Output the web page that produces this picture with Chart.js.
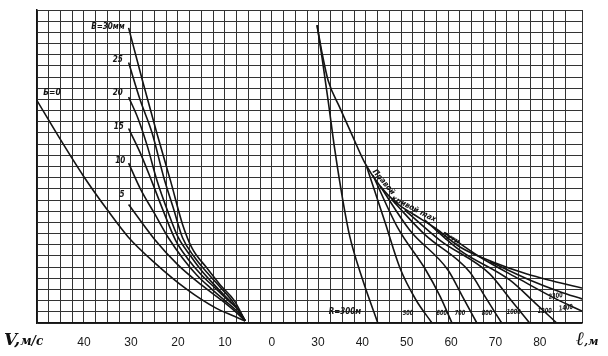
<!DOCTYPE html>
<html><head><meta charset="utf-8">
<script src="https://cdn.jsdelivr.net/npm/chart.js@4/dist/chart.umd.min.js"></script>
<style>
html,body{margin:0;padding:0;background:#fff;}
#wrap{position:relative;width:608px;height:356px;overflow:hidden;}
canvas{display:block;}
.ax{position:absolute;font-family:"DejaVu Serif",serif;font-style:italic;font-weight:bold;color:#111;white-space:nowrap;}
</style></head><body>
<div id="wrap"><canvas id="c" width="608" height="356"></canvas>
<span class="ax" style="left:4px;top:329px;font-size:17px;">V,<span style="font-size:12px">м/с</span></span>
<span class="ax" style="left:576px;top:327px;font-size:19px;">ℓ<span style="font-size:11px">,м</span></span>
</div>
<script>
// ---- tick labels ----
const LEFT_TICKS = [40, 30, 20, 10, 0];
const RIGHT_TICKS = [30, 40, 50, 60, 70, 80];

// ---- left family (V, m/s) : curves for B = 0 ... 30 mm ----
const b0V  = [50, 45, 40.2, 35, 30.6, 25, 18.1, 12, 8, 5.7];
const b0Y  = [19.9, 16.4, 13.2, 10.1, 7.7, 5.4, 3.0, 1.35, 0.6, 0.18];
const b5V  = [30.5, 25, 20, 15, 10, 8, 5.7];
const b5Y  = [10.6, 7.5, 5.2, 3.4, 1.8, 1.1, 0.2];
const b10V = [30.5, 28, 25, 22, 19, 16, 13, 10, 7.5, 5.7];
const b10Y = [14.3, 12.0, 9.8, 7.6, 5.8, 4.3, 3.1, 2.0, 1.1, 0.2];
const b15V = [30.5, 28, 25.5, 23, 20.5, 18, 15, 12, 9, 7, 5.7];
const b15Y = [17.4, 15.2, 12.6, 9.9, 7.4, 5.8, 4.3, 3.1, 1.9, 1.1, 0.2];
const b20V = [30.5, 28.5, 26.5, 24.5, 22, 20, 17.5, 15, 12, 9, 7, 5.7];
const b20Y = [20.2, 18.3, 15.8, 12.8, 9.8, 7.7, 6.1, 4.7, 3.3, 2.0, 1.1, 0.2];
const b25V = [30.5, 28, 25.5, 23, 21, 19, 16.5, 14, 11, 8.5, 5.7];
const b25Y = [23.3, 19.9, 17.0, 13.0, 10.3, 7.6, 5.9, 4.6, 3.2, 2.0, 0.2];
const b30V = [30.5, 27.5, 24.5, 21.5, 19, 17, 14, 11, 8, 5.7];
const b30Y = [26.4, 21.6, 17.0, 12.6, 8.8, 6.7, 5.0, 3.4, 2.0, 0.2];

// ---- right family (ℓ, m) : envelope and radius curves ----
const envL  = [29.8, 30.9, 32.3, 35.0, 37.7, 40.6, 44.0, 47.8, 51.8, 56.4, 62.0, 69.4, 77.1, 82.9, 89.5];
const envY  = [26.65, 24.2, 21.7, 19.2, 16.8, 14.3, 12.25, 10.7, 9.66, 8.5, 6.8, 5.46, 4.38, 3.76, 3.13];
const r300L = [29.8, 30.9, 32.3, 33.8, 35.6, 37.2, 40.1, 43.5];
const r300Y = [26.65, 23.8, 19.9, 15.5, 11.0, 7.7, 3.85, 0];
const r500L = [41.0, 45.1, 48.5, 52.1, 55.7];
const r500Y = [13.95, 9.03, 4.9, 2.06, 0];
const r600L = [42.4, 48.0, 54.3, 57.5, 60.2];
const r600Y = [13.2, 8.5, 4.74, 2.4, 0];
const r700L = [44.0, 50.7, 59.3, 62.4, 65.8];
const r700Y = [12.25, 8.3, 4.74, 2.5, 0];
const r800L = [46.7, 54.1, 64.2, 67.6, 71.4];
const r800Y = [11.0, 7.9, 4.56, 2.4, 0];
const r1000L = [49.6, 57.5, 68.7, 73.2, 77.7];
const r1000Y = [10.1, 7.4, 4.4, 2.2, 0];
const r1200L = [54.1, 62.0, 73.2, 78.9, 83.8];
const r1200Y = [9.2, 6.5, 3.85, 1.8, 0];
const r1400L = [58.6, 66.5, 75.5, 83.4, 89.5];
const r1400Y = [8.05, 5.9, 3.9, 2.2, 1.07];
const r2300L = [68.7, 77.7, 84.5, 89.5];
const r2300Y = [5.5, 3.85, 2.8, 2.15];

const zip = (xs, ys) => xs.map((x, i) => ({x: x, y: ys[i]}));
const INK = '#141414';
function curve(xs, ys, axis) {
  return {data: zip(xs, ys), xAxisID: axis, yAxisID: 'y', showLine: true,
    borderColor: INK, borderWidth: 1.6, pointRadius: 0, fill: false,
    cubicInterpolationMode: 'monotone'};
}
const datasets = [
  curve(b0V, b0Y, 'xL'), curve(b5V, b5Y, 'xL'), curve(b10V, b10Y, 'xL'),
  curve(b15V, b15Y, 'xL'), curve(b20V, b20Y, 'xL'), curve(b25V, b25Y, 'xL'),
  curve(b30V, b30Y, 'xL'),
  curve(envL, envY, 'xR'), curve(r300L, r300Y, 'xR'), curve(r500L, r500Y, 'xR'),
  curve(r600L, r600Y, 'xR'), curve(r700L, r700Y, 'xR'), curve(r800L, r800Y, 'xR'),
  curve(r1000L, r1000Y, 'xR'), curve(r1200L, r1200Y, 'xR'), curve(r1400L, r1400Y, 'xR'),
  curve(r2300L, r2300Y, 'xR')
];

// curve annotations (text + anchor in data units)
const notes = [
  {t: 'В=30мм', a: 'xL', x: 34.9, y: 26.5, r: 0, s: 8.5, k: 0.95},
  {t: '25', a: 'xL', x: 32.8, y: 23.5, r: 0, s: 8, k: 1},
  {t: '20', a: 'xL', x: 32.8, y: 20.6, r: 0, s: 8, k: 1},
  {t: '15', a: 'xL', x: 32.6, y: 17.5, r: 0, s: 8, k: 1},
  {t: '10', a: 'xL', x: 32.3, y: 14.5, r: 0, s: 8, k: 1},
  {t: '5', a: 'xL', x: 31.9, y: 11.45, r: 0, s: 8, k: 1},
  {t: 'Б=0', a: 'xL', x: 46.8, y: 20.6, r: 0, s: 8.5, k: 1},
  {t: 'R=300м', a: 'xR', x: 36.1, y: 0.98, r: 0, s: 8, k: 1},
  {t: '500', a: 'xR', x: 50.3, y: 0.9, r: 0, s: 7, k: 0.8},
  {t: '600', a: 'xR', x: 57.9, y: 0.9, r: 0, s: 7, k: 0.8},
  {t: '700', a: 'xR', x: 62.0, y: 0.9, r: 0, s: 7, k: 0.8},
  {t: '800', a: 'xR', x: 68.1, y: 0.9, r: 0, s: 7, k: 0.8},
  {t: '1000', a: 'xR', x: 74.1, y: 0.98, r: 0, s: 7, k: 0.8},
  {t: '1200', a: 'xR', x: 81.1, y: 1.07, r: 0, s: 7, k: 0.8},
  {t: '1400', a: 'xR', x: 85.9, y: 1.35, r: -8, s: 7, k: 0.8},
  {t: '2300', a: 'xR', x: 83.6, y: 2.4, r: -8, s: 7, k: 0.8},
  {t: 'Правой', a: 'xR', x: 44.8, y: 12.6, r: 50, s: 8, k: 1},
  {t: 'кривой max', a: 'xR', x: 51.6, y: 10.2, r: 27, s: 8, k: 1},
  {t: 'пути', a: 'xR', x: 59.9, y: 7.6, r: 30, s: 8, k: 1}
];
const notePlugin = {
  id: 'notes',
  afterDatasetsDraw(chart) {
    const ctx = chart.ctx, ys = chart.scales.y;
    ctx.save();
    ctx.fillStyle = INK;
    ctx.textAlign = 'center';
    ctx.textBaseline = 'middle';
    notes.forEach(n => {
      const px = chart.scales[n.a].getPixelForValue(n.x);
      const py = ys.getPixelForValue(n.y);
      ctx.save();
      ctx.font = 'italic bold ' + n.s + 'px "DejaVu Sans Condensed", "DejaVu Sans", sans-serif';
      ctx.translate(px, py);
      ctx.rotate(n.r * Math.PI / 180);
      ctx.scale(n.k, 1);
      ctx.fillText(n.t, 0, 0);
      ctx.restore();
    });
    ctx.restore();
  }
};

const tickFont = {family: '"Liberation Sans", Arial, sans-serif', size: 12};
new Chart(document.getElementById('c'), {
  type: 'scatter',
  data: {datasets: datasets},
  plugins: [notePlugin],
  options: {
    responsive: false, animation: false, devicePixelRatio: 1,
    layout: {padding: {left: 37, right: 26, top: 10, bottom: 33}},
    plugins: {legend: {display: false}, tooltip: {enabled: false}},
    scales: {
      y: {
        min: 0, max: 28,
        ticks: {display: false, stepSize: 1},
        grid: {color: '#333', lineWidth: 1, drawTicks: false},
        border: {color: INK, width: 1.5},
        afterFit: s => { s.width = 0; }
      },
      xL: {
        type: 'linear', position: {y: 0}, reverse: true,
        min: -66, max: 50,
        grid: {color: '#333', lineWidth: 1, drawTicks: false},
        border: {color: INK, width: 1.5},
        ticks: {stepSize: 2.5, autoSkip: false, maxRotation: 0, padding: 12,
          color: '#1a1a1a', font: tickFont,
          callback: v => LEFT_TICKS.includes(v) ? String(v) : ''}
      },
      xR: {
        type: 'linear', position: {y: 0},
        min: -33.3, max: 89.5,
        grid: {display: false, drawTicks: false},
        border: {display: false},
        afterBuildTicks: s => { s.ticks = RIGHT_TICKS.map(v => ({value: v})); },
        ticks: {autoSkip: false, maxRotation: 0, padding: 12,
          color: '#1a1a1a', font: tickFont,
          callback: v => String(v)}
      }
    }
  }
});
</script>
</body></html>
